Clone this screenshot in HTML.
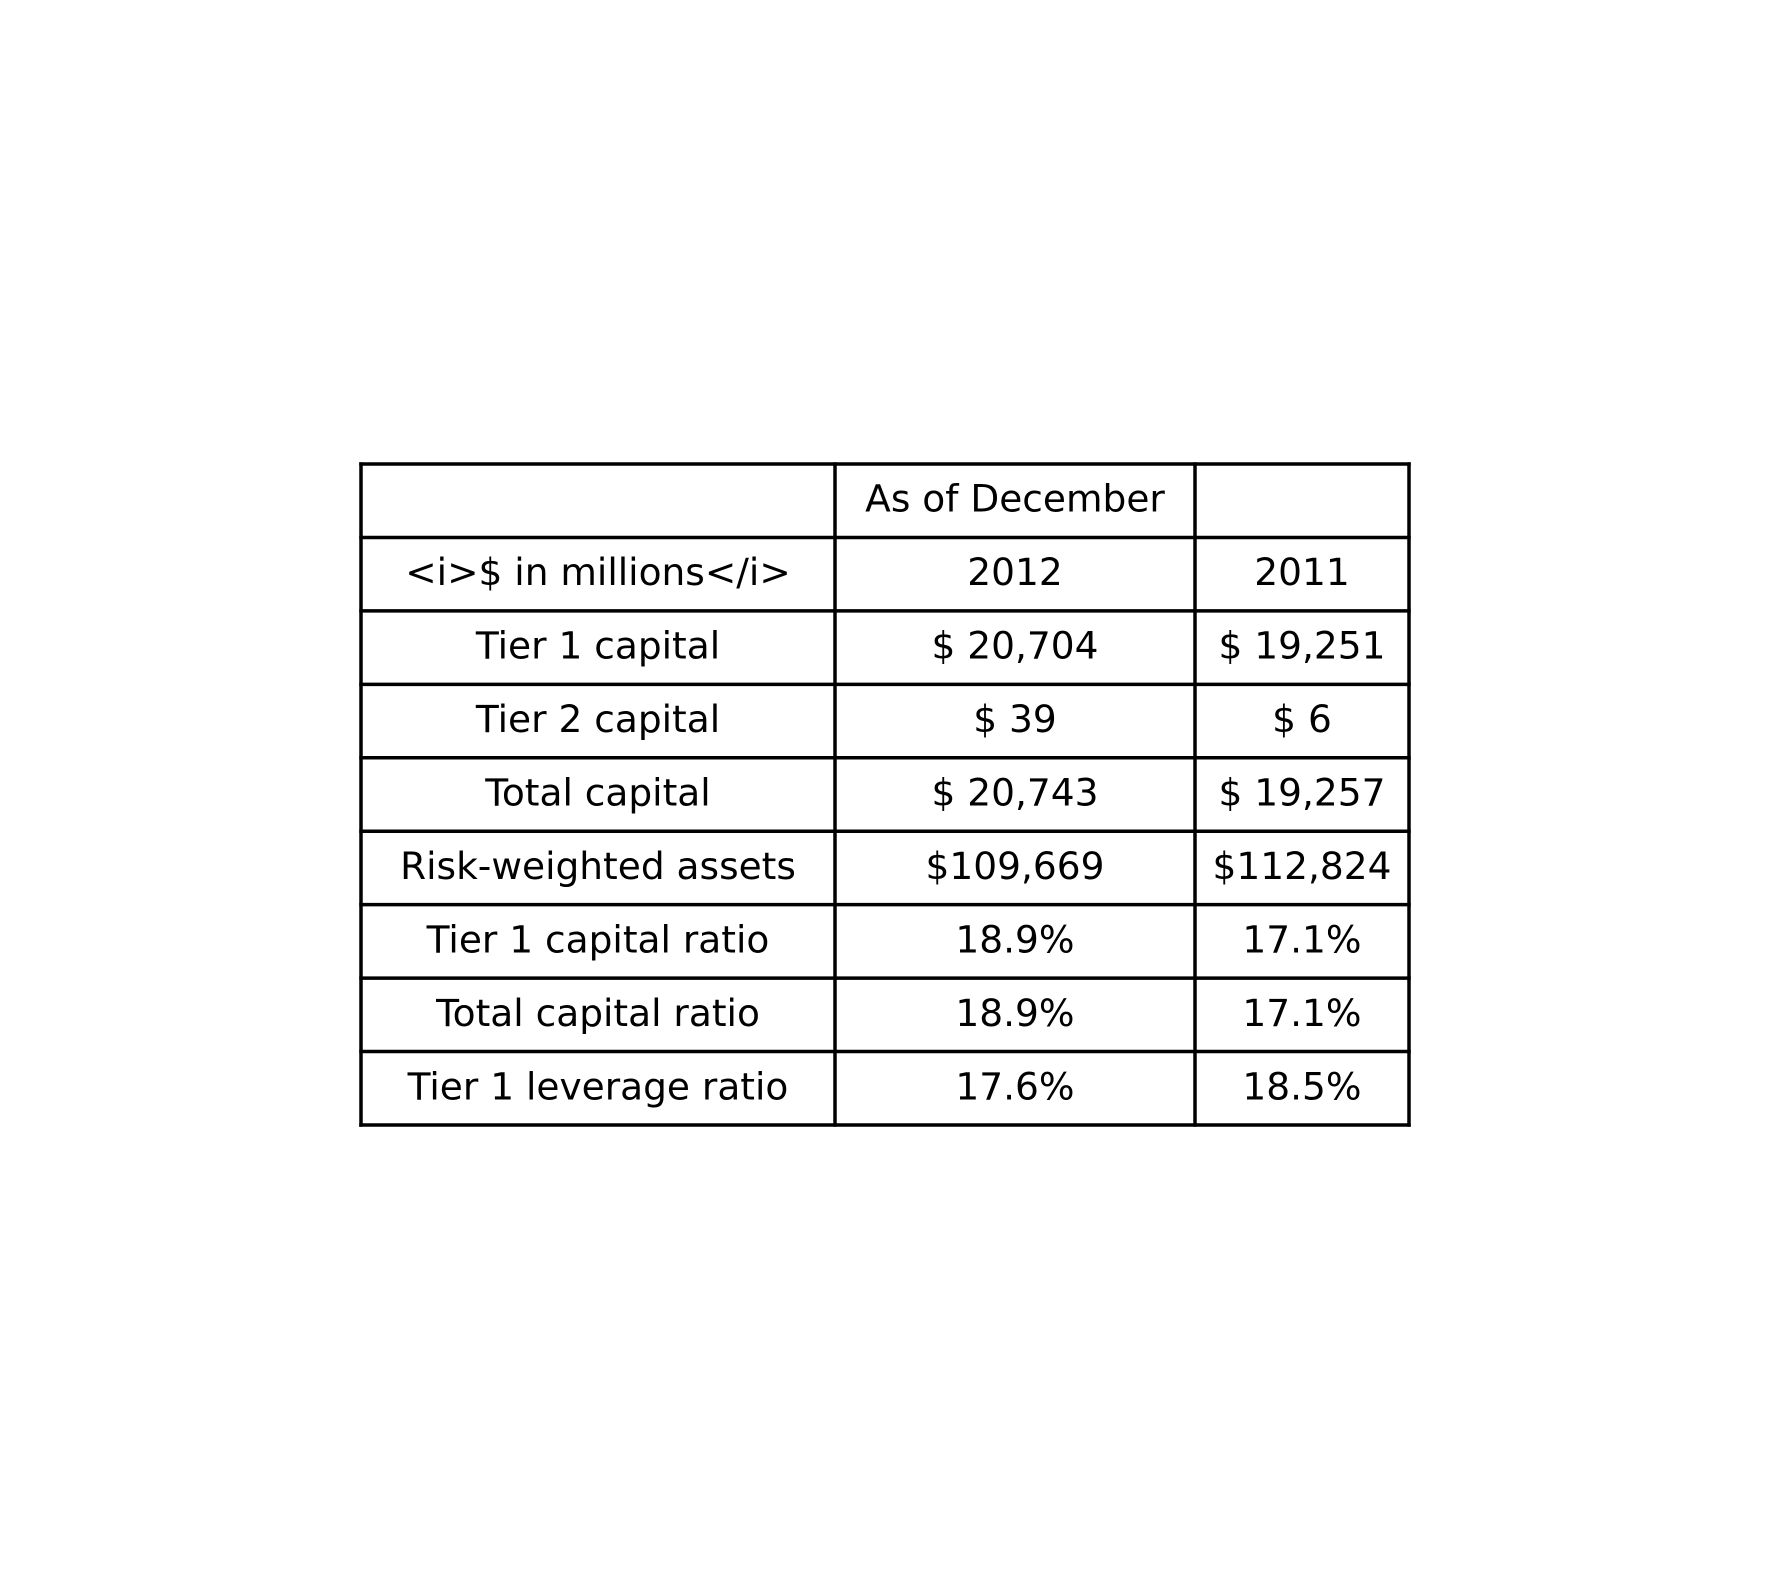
<!DOCTYPE html>
<html><head><meta charset="utf-8"><style>
html,body{margin:0;padding:0;background:#fff;width:1770px;height:1590px;overflow:hidden}
svg{display:block}
text{font-family:"DejaVu Sans","Liberation Sans",sans-serif;font-size:37.5px;fill:#000}
</style></head><body>
<svg id="chart" width="1770" height="1590" viewBox="0 0 1770 1590" xmlns="http://www.w3.org/2000/svg"></svg>
<script>
const headerRow = ["", "As of December", ""];
const subHeaderRow = ["<i>$ in millions</i>", "2012", "2011"];
const rowLabels = ["Tier 1 capital","Tier 2 capital","Total capital","Risk-weighted assets","Tier 1 capital ratio","Total capital ratio","Tier 1 leverage ratio"];
const values2012 = ["$ 20,704","$ 39","$ 20,743","$109,669","18.9%","18.9%","17.6%"];
const values2011 = ["$ 19,251","$ 6","$ 19,257","$112,824","17.1%","17.1%","18.5%"];

const NS = "http://www.w3.org/2000/svg";
const svg = document.getElementById('chart');
const colX = [361, 835, 1195, 1409];
const top0 = 464, bottom0 = 1125;
const rows = [headerRow, subHeaderRow];
for (let i = 0; i < rowLabels.length; i++) rows.push([rowLabels[i], values2012[i], values2011[i]]);
const rh = (bottom0 - top0) / rows.length;

rows.forEach((r, ri) => {
  r.forEach((txt, ci) => {
    const t = document.createElementNS(NS, 'text');
    t.setAttribute('x', (colX[ci] + colX[ci + 1]) / 2);
    t.setAttribute('y', top0 + rh * ri + rh / 2 + 11);
    t.setAttribute('text-anchor', 'middle');
    t.textContent = txt;
    
    
    svg.appendChild(t);
  });
});
function line(x1, y1, x2, y2, name) {
  const l = document.createElementNS(NS, 'line');
  l.setAttribute('x1', x1); l.setAttribute('y1', y1);
  l.setAttribute('x2', x2); l.setAttribute('y2', y2);
  l.setAttribute('stroke', '#000'); l.setAttribute('stroke-width', '3.5');
  l.setAttribute('stroke-linecap', 'square');
  
  
  svg.appendChild(l);
}
for (let i = 0; i <= rows.length; i++) line(colX[0], top0 + rh * i, colX[3], top0 + rh * i, 'row-border-' + i);
colX.forEach((x, i) => line(x, top0, x, bottom0, 'column-border-' + i));
</script>
</body></html>
